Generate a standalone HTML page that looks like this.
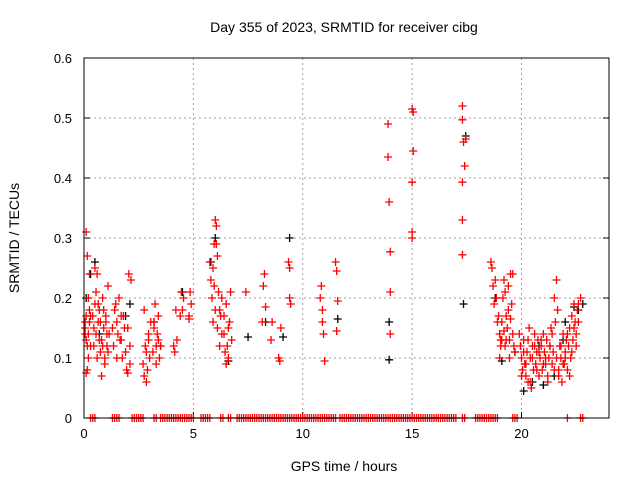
<!DOCTYPE html>
<html><head><meta charset="utf-8"><style>
body{margin:0;background:#fff;}
svg{display:block;font-family:"Liberation Sans",sans-serif;}
</style></head><body>
<svg id="chart" width="640" height="480" xmlns="http://www.w3.org/2000/svg">
<rect width="640" height="480" fill="#fff"/>
<text x="344" y="32" font-size="14" text-anchor="middle">Day 355 of 2023, SRMTID for receiver cibg</text>
<text transform="translate(19,238) rotate(-90)" font-size="14" text-anchor="middle">SRMTID / TECUs</text>
<text x="344" y="471" font-size="14" text-anchor="middle">GPS time / hours</text>
<g id="grid"></g><g id="ticks"></g><g id="black"></g><g id="red"></g>
<rect x="84" y="58" width="525" height="360" fill="none" stroke="#000" stroke-width="1"/>
</svg>
<script>
const xTicks=[0,5,10,15,20];
const yTicks=[0,0.1,0.2,0.3,0.4,0.5,0.6];
const yTickLabels=["0","0.1","0.2","0.3","0.4","0.5","0.6"];
const redHours=[0.05,0.05,0.1,0.1,0.1,0.15,0.15,0.2,0.2,0.25,0.25,0.3,0.3,0.1,0.2,0.05,0.15,0.25,
0.4,0.45,0.5,0.55,0.6,0.65,0.7,0.75,0.8,0.85,0.9,0.95,1.0,1.05,1.1,1.15,0.5,0.6,0.7,0.8,0.9,1.0,1.1,0.45,0.65,0.85,1.05,0.55,0.75,0.95,
1.3,1.35,1.4,1.5,1.55,1.6,1.7,1.75,1.8,1.9,1.95,2.0,2.05,2.1,2.15,1.45,1.65,1.85,2.0,2.1,1.5,1.7,
2.7,2.75,2.8,2.85,2.9,2.95,3.0,3.05,2.75,2.85,2.95,3.2,3.25,3.3,3.35,3.4,3.45,3.5,3.3,3.4,3.2,3.15,
4.1,4.15,4.2,4.25,4.4,4.45,4.5,4.55,4.8,4.85,4.9,4.8,
5.75,5.8,5.85,5.9,5.95,6.0,6.05,6.1,6.0,6.05,5.9,5.95,6.1,6.15,6.2,6.25,6.3,6.4,6.45,6.5,6.55,6.6,6.65,6.7,6.75,6.5,6.4,6.6,6.3,6.2,
7.4,8.15,8.2,8.25,8.3,8.55,8.6,8.9,8.95,9.0,9.35,9.4,9.45,9.4,
10.8,10.85,10.9,10.95,11.0,10.9,11.5,11.55,11.6,11.55,
13.9,13.9,13.95,14.0,14.0,14.0,
15.0,15.05,15.05,15.0,15.0,15.0,
17.3,17.3,17.35,17.45,17.4,17.3,17.3,17.3,
18.6,18.65,18.7,18.75,18.8,18.85,18.9,18.95,19.0,19.05,19.1,19.15,19.2,19.25,19.3,19.35,19.4,19.45,19.5,19.55,19.6,19.65,19.7,19.0,19.1,19.2,19.3,19.4,19.5,19.6,19.05,19.25,19.45,
19.9,19.95,20.0,20.05,20.1,20.15,20.2,20.25,20.3,20.35,20.4,20.45,20.5,20.55,20.6,20.65,20.7,20.75,20.8,20.85,20.9,20.95,21.0,21.05,21.1,21.15,21.2,21.25,21.3,21.35,21.4,21.45,21.5,21.55,21.6,21.65,21.7,21.75,21.8,21.85,21.9,21.95,22.0,22.05,22.1,22.15,22.2,22.25,22.3,22.35,22.4,22.45,22.5,22.55,22.6,22.7,
20.0,20.1,20.2,20.3,20.4,20.5,20.6,20.7,20.8,20.9,21.0,21.1,21.2,21.3,21.4,21.5,21.6,21.7,21.8,21.9,22.0,22.1,22.2,22.3,22.4,22.5,22.6];
const redValues=[0.16,0.15,0.13,0.17,0.31,0.27,0.08,0.1,0.14,0.16,0.24,0.17,0.12,0.075,0.2,0.14,0.12,0.18,
0.17,0.12,0.19,0.14,0.24,0.16,0.18,0.11,0.13,0.2,0.15,0.09,0.17,0.12,0.22,0.14,0.25,0.1,0.13,0.07,0.18,0.16,0.11,0.15,0.19,0.12,0.14,0.21,0.16,0.1,
0.15,0.12,0.18,0.16,0.14,0.2,0.13,0.1,0.17,0.11,0.08,0.15,0.24,0.09,0.23,0.19,0.13,0.15,0.075,0.12,0.1,0.17,
0.09,0.07,0.12,0.06,0.08,0.14,0.1,0.16,0.18,0.11,0.13,0.15,0.19,0.12,0.14,0.17,0.1,0.12,0.09,0.13,0.16,0.11,
0.12,0.11,0.18,0.13,0.17,0.21,0.18,0.2,0.17,0.21,0.19,0.165,
0.26,0.23,0.2,0.25,0.29,0.33,0.32,0.27,0.18,0.29,0.16,0.22,0.15,0.21,0.18,0.17,0.2,0.14,0.11,0.19,0.12,0.1,0.16,0.21,0.13,0.09,0.17,0.15,0.14,0.12,
0.21,0.16,0.22,0.24,0.185,0.13,0.16,0.1,0.095,0.15,0.26,0.25,0.19,0.2,
0.2,0.22,0.16,0.14,0.095,0.18,0.26,0.245,0.195,0.145,
0.49,0.435,0.36,0.277,0.21,0.14,
0.515,0.51,0.445,0.393,0.31,0.3,
0.52,0.497,0.46,0.465,0.42,0.393,0.33,0.272,
0.26,0.25,0.22,0.19,0.23,0.2,0.16,0.17,0.14,0.12,0.13,0.2,0.23,0.21,0.17,0.15,0.18,0.13,0.24,0.19,0.14,0.12,0.11,0.1,0.16,0.145,0.13,0.22,0.165,0.24,0.13,0.12,0.1,
0.14,0.12,0.1,0.08,0.13,0.09,0.07,0.11,0.06,0.15,0.1,0.05,0.12,0.08,0.14,0.09,0.11,0.13,0.07,0.1,0.12,0.08,0.14,0.11,0.09,0.13,0.07,0.1,0.12,0.15,0.09,0.11,0.2,0.16,0.23,0.18,0.08,0.12,0.1,0.06,0.14,0.09,0.11,0.13,0.08,0.12,0.15,0.1,0.17,0.13,0.19,0.16,0.14,0.18,0.19,0.2,
0.07,0.11,0.09,0.13,0.06,0.1,0.12,0.08,0.11,0.13,0.09,0.1,0.06,0.12,0.14,0.08,0.1,0.07,0.12,0.09,0.1,0.14,0.07,0.11,0.15,0.12,0.16];
const zeroHours=[0.3,0.4,0.5,1.3,1.4,1.5,1.6,2.2,2.3,2.4,2.5,2.6,2.7,3.2,3.3,3.5,3.6,3.7,3.8,3.9,4.0,4.1,4.2,4.3,4.4,4.5,4.6,4.7,4.8,4.9,5.0,5.35,5.45,5.55,5.65,5.75,6.25,6.35,6.6,6.7,7.0,7.1,7.2,7.3,7.4,7.5,7.6,7.7,7.8,7.9,8.0,8.1,8.2,8.3,8.4,8.5,8.6,8.7,8.8,8.9,9.0,9.1,9.2,9.3,9.4,9.5,9.6,9.7,9.8,9.9,10.0,10.1,10.2,10.3,10.4,10.5,10.6,10.7,10.8,10.9,11.0,11.1,11.2,11.3,11.4,11.5,11.7,11.8,11.9,12.0,12.1,12.2,12.3,12.4,12.5,12.6,12.7,12.8,12.9,13.0,13.1,13.2,13.3,13.4,13.5,13.6,13.7,13.8,13.9,14.0,14.1,14.2,14.3,14.4,14.5,14.6,14.7,14.8,14.9,15.0,15.1,15.2,15.3,15.4,15.5,15.6,15.7,15.8,15.9,16.0,16.1,16.2,16.3,16.4,16.5,16.6,16.7,16.8,16.9,17.0,17.3,17.4,17.9,18.0,18.1,18.2,18.3,18.4,18.5,18.6,18.7,18.8,18.9,19.6,19.7,19.8,22.1,22.7,22.8];
const blackHours=[0.1,0.3,0.5,0.7,1.9,2.1,3.2,3.5,4.5,5.8,6.0,6.6,7.5,8.3,9.1,9.4,11.6,13.95,13.95,17.35,17.45,18.8,19.1,19.7,20.1,20.5,21.0,21.5,22.0,22.4,22.6,22.8,20.8,21.9];
const blackValues=[0.2,0.24,0.26,0.14,0.17,0.19,0.16,0.12,0.21,0.26,0.3,0.095,0.135,0.16,0.135,0.3,0.165,0.16,0.097,0.19,0.47,0.2,0.095,0.11,0.045,0.06,0.055,0.07,0.16,0.185,0.18,0.19,0.12,0.13];

const X0=84,X1=609,Y0=418,Y1=58,XMAX=24,YMAX=0.6;
const xs=h=>X0+h/XMAX*(X1-X0);
const ys=v=>Y0-v/YMAX*(Y0-Y1);
const NS="http://www.w3.org/2000/svg";
function mk(tag,attrs,parent){const e=document.createElementNS(NS,tag);for(const k in attrs)e.setAttribute(k,attrs[k]);parent.appendChild(e);return e;}
const grid=document.getElementById('grid'),ticks=document.getElementById('ticks');
xTicks.forEach(t=>{
  const x=xs(t);
  if(t>0){const g=mk('line',{x1:x,x2:x,y1:Y1,y2:Y0,stroke:'#a0a0a0','stroke-dasharray':'2,3'},grid);
  
  }
  const tl=mk('line',{x1:x,x2:x,y1:Y0,y2:Y0-6,stroke:'#000'},ticks);
  
  
  const tx=mk('text',{x:x,y:Y0+20,'font-size':'13','text-anchor':'middle'},ticks);
  tx.textContent=String(t);
  
  
});
yTicks.forEach((t,i)=>{
  const y=ys(t);
  if(t>0&&t<YMAX){const g=mk('line',{x1:X0,x2:X1,y1:y,y2:y,stroke:'#a0a0a0','stroke-dasharray':'2,3'},grid);
  
  }
  const tl=mk('line',{x1:X0,x2:X0+6,y1:y,y2:y,stroke:'#000'},ticks);
  
  
  const tr=mk('line',{x1:X1,x2:X1-6,y1:y,y2:y,stroke:'#000'},ticks);
  
  
  const tx=mk('text',{x:X0-12,y:y+5,'font-size':'13','text-anchor':'end'},ticks);
  tx.textContent=yTickLabels[i];
  
  
});
function plus(g,h,v,color,name){
  const x=xs(h),y=ys(v);
  const p=mk('path',{d:`M${x-4},${y}H${x+4}M${x},${y-4}V${y+4}`,stroke:color,'stroke-width':'1.3',fill:'none'},g);
  
  
}
const gb=document.getElementById('black'),gr=document.getElementById('red');
blackHours.forEach((h,i)=>plus(gb,h,blackValues[i],'#000','black-point'));
redHours.forEach((h,i)=>plus(gr,h,redValues[i],'#f00','red-point'));
zeroHours.forEach(h=>plus(gr,h,0,'#f00','zero-point'));
</script>
</body></html>
